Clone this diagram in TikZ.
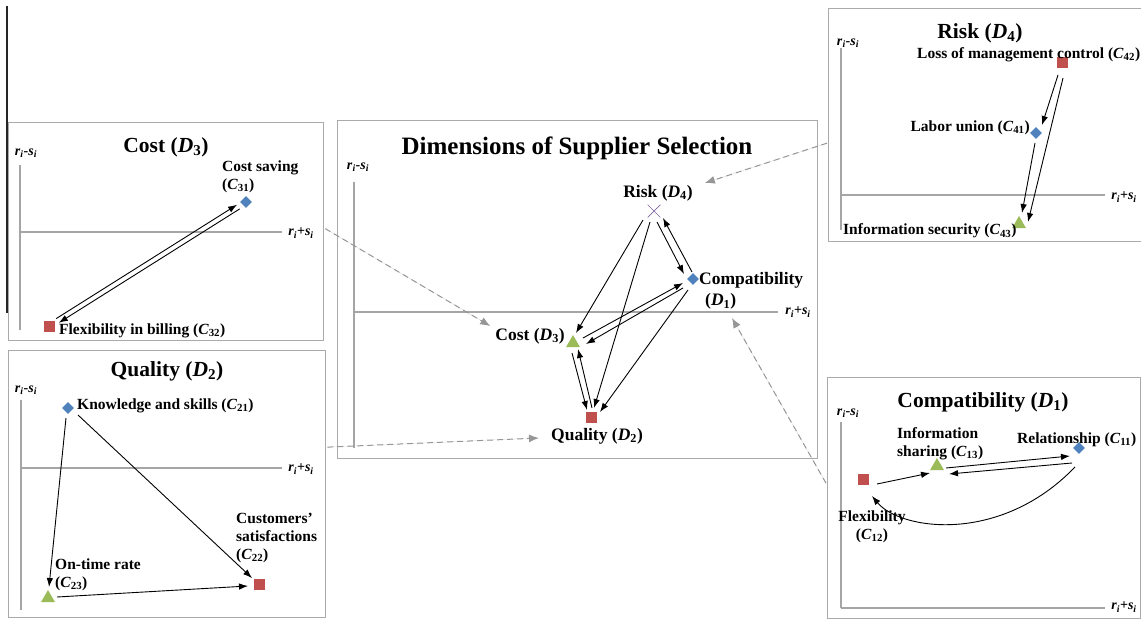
\documentclass[tikz,border=0pt]{standalone}
\usepackage{fontspec}
\setmainfont{Liberation Serif}
\usetikzlibrary{shapes.geometric,shapes.misc,arrows.meta,calc}
\definecolor{mblue}{RGB}{79,129,189}
\definecolor{mred}{RGB}{192,80,77}
\definecolor{mgreen}{RGB}{155,187,89}
\definecolor{mpurple}{RGB}{128,100,162}
\definecolor{axisgray}{RGB}{165,165,165}
\definecolor{framegray}{RGB}{170,170,170}
\definecolor{dashgray}{RGB}{150,150,150}
\newcommand{\critsub}[2]{(\textit{#1}\textsubscript{#2})}
\newcommand{\rms}{\textit{r}\textsubscript{\textit{i}}-\textit{s}\textsubscript{\textit{i}}}
\newcommand{\rps}{\textit{r}\textsubscript{\textit{i}}+\textit{s}\textsubscript{\textit{i}}}
\begin{document}
\begin{tikzpicture}[x=1pt,y=-1pt,
  panel/.style={draw=framegray, line width=1.3pt, minimum width=#1, inner sep=0, anchor=north west},
  axisline/.style={draw=axisgray, line width=1.1pt},
  arr/.style={-{Latex[length=9pt,width=6.5pt]}, line width=0.9pt, black},
  dasharr/.style={-{Latex[length=10pt,width=8pt]}, draw=dashgray, fill=dashgray, line width=1pt, dash pattern=on 6pt off 4pt},
  dia/.style={diamond, fill=mblue, minimum width=12pt, minimum height=12pt, inner sep=0},
  sq/.style={rectangle, fill=mred, minimum size=11pt, inner sep=0},
  tri/.style={regular polygon, regular polygon sides=3, fill=mgreen, minimum size=16pt, inner sep=0},
  xmark/.style={cross out, draw=mpurple, minimum size=12pt, inner sep=0, line width=0.7pt},
  lab/.style={font=\fontsize{15.5}{18}\selectfont\bfseries, inner sep=0},
  clab/.style={font=\fontsize{17.5}{21}\selectfont\bfseries, inner sep=0},
  ptitle/.style={font=\fontsize{21.5}{24}\selectfont\bfseries, inner sep=0},
  axlab/.style={font=\fontsize{14}{16}\selectfont\bfseries, inner sep=0}]
\useasboundingbox (0,0) rectangle (1141,621);
% left dark edge line
\draw[line width=1.5pt, black!85] (7,6) -- (7,313);
% ---------------- panels
\node[panel=315pt, minimum height=218pt] (pcost) at (8,122) {};
\node[panel=317pt, minimum height=267pt] (pqual) at (8,350) {};
\node[panel=480pt, minimum height=338pt] (pcen) at (337,120) {};
\node[panel=313pt, minimum height=233pt] (prisk) at (828,8) {};
\node[panel=313pt, minimum height=241pt] (pcomp) at (827,377) {};

% ---------------- Cost panel
\draw[axisline] (20,165) -- (20,330);
\draw[axisline] (20,232) -- (282,232);
\node[axlab] (cost-y) at (26,153) {\rms};
\node[axlab] (cost-x) at (301,233) {\rps};
\node[ptitle] (cost-t) at (166,147) {Cost \critsub{D}{3}};
\node[dia] (c31) at (246,202) {};
\node[sq] (c32) at (49,326) {};
\node[lab, anchor=west, align=left] (c31l) at (222,177) {Cost saving\\\critsub{C}{31}};
\node[lab, anchor=west] (c32l) at (59,331) {Flexibility in billing \critsub{C}{32}};
\draw[arr] ($(c32)+(7.2,-7.4)$) -- ($(c31)+(-8.9,2.7)$);
\draw[arr] ($(c31)+(-6.3,6.9)$) -- ($(c32)+(9.8,-3.2)$);

% ---------------- Quality panel
\draw[axisline] (21,400) -- (21,610);
\draw[axisline] (21,468) -- (282,468);
\node[axlab] (qual-y) at (26,390) {\rms};
\node[axlab] (qual-x) at (301,469) {\rps};
\node[ptitle] (qual-t) at (167,371) {Quality \critsub{D}{2}};
\node[dia] (c21) at (68,408) {};
\node[sq] (c22) at (259,584) {};
\node[tri] (c23) at (48,598) {};
\node[lab, anchor=west] (c21l) at (77,406) {Knowledge and skills \critsub{C}{21}};
\node[lab, anchor=west, align=left] (c22l) at (236,538) {Customers'\\satisfactions\\\critsub{C}{22}};
\node[lab, anchor=west, align=left] (c23l) at (55,575) {On-time rate\\\critsub{C}{23}};
\draw[arr] ($(c21)+(-2,10)$) -- ($(c23)+(1,-11)$);
\draw[arr] ($(c21)+(10,7)$) -- ($(c22)+(-7,-6)$);
\draw[arr] ($(c23)+(9,-1)$) -- ($(c22)+(-11,2)$);

% ---------------- Central panel
\node[font=\fontsize{25}{28}\selectfont\bfseries, inner sep=0] (cen-t) at (577,148) {Dimensions of Supplier Selection};
\draw[axisline] (354,182) -- (354,448);
\draw[axisline] (354,312) -- (778,312);
\node[axlab] (cen-y) at (358,167) {\rms};
\node[axlab] (cen-x) at (798,312) {\rps};
\node[xmark] (d4) at (654,211) {};
\node[dia] (d1) at (693,279) {};
\node[tri] (d3) at (573,343) {};
\node[sq] (d2) at (591,417) {};
\node[clab] (d4l) at (658,193) {Risk \critsub{D}{4}};
\node[clab, anchor=west, align=left] (d1l) at (699,291) {Compatibility\\\hspace*{6pt}\critsub{D}{1}};
\node[clab, anchor=east] (d3l) at (565,336) {Cost \critsub{D}{3}};
\node[clab] (d2l) at (597,436) {Quality \critsub{D}{2}};
\draw[arr] ($(d4)+(-11,9)$) -- ($(d3)+(3,-10)$);
\draw[arr] ($(d4)+(-4,11)$) -- ($(d2)+(3,-9)$);
\draw[arr] ($(d4)+(3,11)$) -- ($(d1)+(-9,-5)$);
\draw[arr] ($(d1)+(-1,-7)$) -- ($(d4)+(9,7)$);
\draw[arr] ($(d3)+(10,-5)$) -- ($(d1)+(-10,4)$);
\draw[arr] ($(d1)+(-10,9)$) -- ($(d3)+(13,1)$);
\draw[arr] ($(d1)+(-5,11)$) -- ($(d2)+(9,-5)$);
\draw[arr] ($(d3)+(-1,10)$) -- ($(d2)+(-4,-7)$);
\draw[arr] ($(d2)+(1,-9)$) -- ($(d3)+(5,6)$);

% ---------------- Risk panel
\draw[axisline] (841,48) -- (841,230);
\draw[axisline] (841,195) -- (1105,195);
\node[axlab] (risk-y) at (848,43) {\rms};
\node[axlab] (risk-x) at (1124,197) {\rps};
\node[ptitle] (risk-t) at (980,33) {Risk \critsub{D}{4}};
\node[sq] (c42) at (1062,62) {};
\node[dia] (c41) at (1036,133) {};
\node[tri] (c43) at (1019,224) {};
\node[lab, anchor=west] (c42l) at (917,55) {Loss of management control \critsub{C}{42}};
\node[lab, anchor=east] (c41l) at (1030,128) {Labor union \critsub{C}{41}};
\node[lab, anchor=west] (c43l) at (843,231) {Information security \critsub{C}{43}};
\draw[arr] ($(c42)+(-4,13)$) -- ($(c41)+(6,-8)$);
\draw[arr] ($(c42)+(1,16)$) -- ($(c43)+(9,-2)$);
\draw[arr] ($(c41)+(-1,10)$) -- ($(c43)+(3,-11)$);

% ---------------- Compatibility panel
\draw[axisline] (841,422) -- (841,608);
\draw[axisline] (841,608) -- (1105,608);
\node[axlab] (comp-y) at (848,413) {\rms};
\node[axlab] (comp-x) at (1124,607) {\rps};
\node[ptitle] (comp-t) at (983,402) {Compatibility \critsub{D}{1}};
\node[dia] (c11) at (1079,448) {};
\node[tri] (c13) at (937,466) {};
\node[sq] (c12) at (863,479) {};
\node[lab, anchor=west] (c11l) at (1017,440) {Relationship \critsub{C}{11}};
\node[lab, anchor=west, align=left] (c13l) at (897,444) {Information\\sharing \critsub{C}{13}};
\node[lab, align=center] (c12l) at (872,527) {Flexibility\\\critsub{C}{12}};
\draw[arr] ($(c12)+(14,5)$) -- ($(c13)+(-7,7)$);
\draw[arr] ($(c13)+(9,2)$) -- ($(c11)+(-9,8)$);
\draw[arr] ($(c11)+(-7,15)$) -- ($(c13)+(12,8)$);
\draw[arr] ($(c11)+(-4,19)$) .. controls (1000,545) and (900,530) .. ($(c12)+(9,17)$);

% ---------------- dashed links
\draw[dasharr] ($(pcost.east)+(1,-3)$) -- ($(d3l.west)+(-5,-10)$);
\draw[dasharr] ($(pqual.east)+(1,-37)$) -- ($(d2l.west)+(-12,2)$);
\draw[dasharr] ($(prisk.west)+(-1,18)$) -- ($(d4l.east)+(12,-10)$);
\draw[dasharr] ($(pcomp.west)+(-1,-15)$) -- ($(d1)+(39,39)$);
\end{tikzpicture}
\end{document}
